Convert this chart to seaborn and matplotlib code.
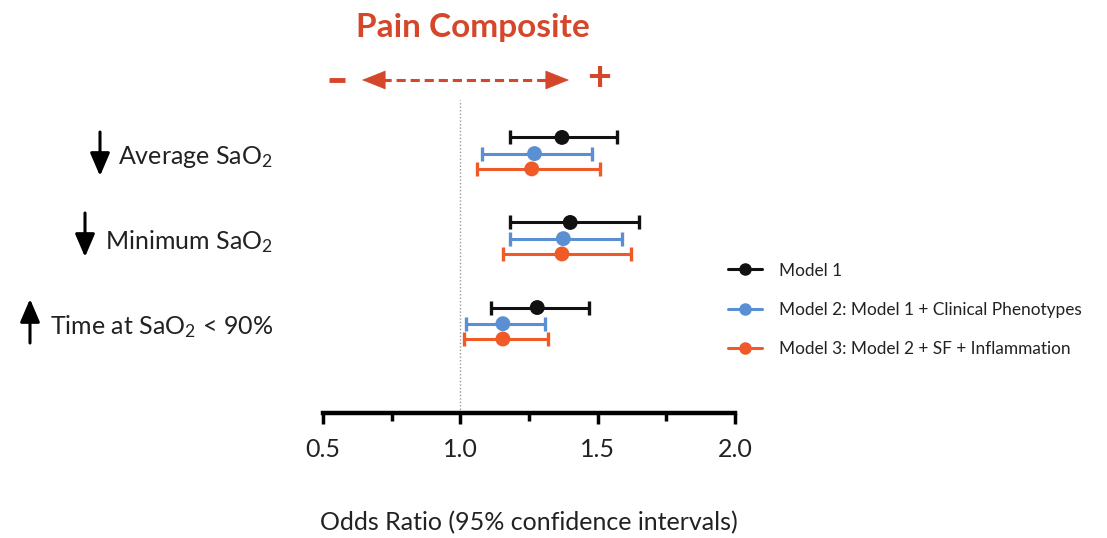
import numpy as np
import pandas as pd
import matplotlib
matplotlib.use("Agg")
import matplotlib.pyplot as plt
import seaborn as sns
from matplotlib.lines import Line2D

# ---------------- data ----------------
outcomes = ["Average SaO$_2$", "Minimum SaO$_2$", "Time at SaO$_2$ < 90%"]
outcome_arrows = ["down", "down", "up"]
models = ["Model 1",
          "Model 2: Model 1 + Clinical Phenotypes",
          "Model 3: Model 2 + SF + Inflammation"]
model1_or = [1.37, 1.40, 1.28]
model1_lo = [1.18, 1.18, 1.11]
model1_hi = [1.57, 1.65, 1.47]
model2_or = [1.27, 1.375, 1.155]
model2_lo = [1.08, 1.18, 1.02]
model2_hi = [1.48, 1.59, 1.31]
model3_or = [1.26, 1.37, 1.155]
model3_lo = [1.06, 1.155, 1.015]
model3_hi = [1.51, 1.62, 1.32]
xticks = [0.5, 1.0, 1.5, 2.0]
xtick_labels = ["0.5", "1.0", "1.5", "2.0"]
minor_xticks = [0.75, 1.25, 1.75]
reference_or = 1.0

# ---------------- style ----------------
sns.set_theme(style="white")
plt.rcParams['font.family'] = ['Lato', 'DejaVu Sans']
plt.rcParams['mathtext.fontset'] = 'custom'
plt.rcParams['mathtext.rm'] = 'Lato'
plt.rcParams['mathtext.it'] = 'Lato:italic'
plt.rcParams['mathtext.bf'] = 'Lato:bold'

colors = ["#111111", "#5b8fd4", "#f05a28"]
red = "#d4472b"
offsets = [-0.19, 0.0, 0.18]

ors = [model1_or, model2_or, model3_or]
los = [model1_lo, model2_lo, model3_lo]
his = [model1_hi, model2_hi, model3_hi]

rows = []
for m, name in enumerate(models):
    for i, out in enumerate(outcomes):
        rows.append(dict(model=name, outcome=out, y=i + offsets[m],
                         OR=ors[m][i], lo=los[m][i], hi=his[m][i]))
df = pd.DataFrame(rows)

W, H = 1107, 538
fig = plt.figure(figsize=(W / 100, H / 100), dpi=100)
ax = fig.add_axes([323 / W, 1 - 413 / H, (735 - 323) / W, (413 - 100) / H])

ax.axvline(reference_or, color="#9a9a9a", ls=(0, (1, 1.5)), lw=1.0, zorder=1)

for m, name in enumerate(models):
    d = df[df.model == name]
    ax.errorbar(d.OR, d.y, xerr=[d.OR - d.lo, d.hi - d.OR], fmt="none",
                ecolor=colors[m], elinewidth=2.2, capsize=5, capthick=2.4, zorder=2)

sns.scatterplot(data=df, x="OR", y="y", hue="model", palette=colors,
                s=115, edgecolor="none", legend=False, ax=ax, zorder=3)

ax.set_xlim(0.5, 2.0)
ax.set_ylim(3.05, -0.63)
ax.set_xticks(xticks)
ax.set_xticklabels(xtick_labels, fontsize=18, color="#222222")
ax.set_xticks(minor_xticks, minor=True)
ax.tick_params(axis="x", which="major", direction="out", length=8, width=2.5,
               color="black", bottom=True, pad=10)
ax.tick_params(axis="x", which="minor", direction="out", length=6, width=2.5,
               color="black", bottom=True)
ax.set_yticks(range(len(outcomes)))
ax.set_yticklabels(outcomes, fontsize=18, color="#222222")
ax.tick_params(axis="y", length=0, pad=36)
ax.set_xlabel("Odds Ratio (95% confidence intervals)", fontsize=18,
              color="#222222", labelpad=36)
ax.set_ylabel("")
for s in ["top", "right", "left"]:
    ax.spines[s].set_visible(False)
ax.spines["bottom"].set_linewidth(3.2)
ax.spines["bottom"].set_color("black")

# direction arrows next to outcome labels (figure pixels)
arrow_x = [100, 85, 30]
arrow_yc = [154, 235, 321]
for xa, yc, d in zip(arrow_x, arrow_yc, outcome_arrows):
    top, bot = H - (yc - 22), H - (yc + 22)
    if d == "down":
        xy, xyt = (xa, bot), (xa, top)
    else:
        xy, xyt = (xa, top), (xa, bot)
    ax.annotate("", xy=xy, xytext=xyt, xycoords="figure pixels",
                textcoords="figure pixels",
                arrowprops=dict(arrowstyle="-|>,head_length=0.7,head_width=0.3",
                                color="black", lw=2.2, mutation_scale=20,
                                shrinkA=0, shrinkB=0))

# title and direction indicator
fig.text(473 / W, 1 - 27 / H, "Pain Composite", ha="center", va="center",
         fontsize=24, fontweight="bold", color=red)
yl = H - 80
fig.add_artist(Line2D([382 / W, 547 / W], [yl / H, yl / H], transform=fig.transFigure,
                      color=red, lw=2.2, ls=(0, (3, 1.6))))
for tip, base in [(362, 384), (569, 546)]:
    ax.annotate("", xy=(tip, yl), xytext=(base, yl), xycoords="figure pixels",
                textcoords="figure pixels",
                arrowprops=dict(arrowstyle="-|>,head_length=0.8,head_width=0.32",
                                color=red, lw=0.5, mutation_scale=20,
                                shrinkA=0, shrinkB=0))
fig.add_artist(Line2D([329 / W, 345 / W], [yl / H, yl / H], transform=fig.transFigure,
                      color=red, lw=3.5, solid_capstyle="butt"))
fig.text(599 / W, 1 - 79 / H, "+", ha="center", va="center", fontsize=30,
         fontweight="bold", color=red)

# legend
handles = [Line2D([0], [0], color=c, marker="o", markersize=8, lw=2.2) for c in colors]
fig.legend(handles, models, loc="upper left", bbox_to_anchor=(712 / W, 1 - 247 / H),
           frameon=False, fontsize=12.4, handlelength=2.0, handletextpad=1.0,
           labelspacing=1.35, labelcolor="#222222")

fig.savefig("out.png", dpi=100)
